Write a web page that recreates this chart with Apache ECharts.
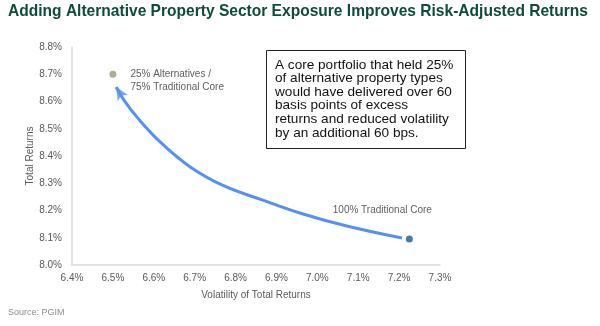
<!DOCTYPE html>
<html><head><meta charset="utf-8">
<script src="https://cdn.jsdelivr.net/npm/echarts@6/dist/echarts.min.js"></script>
<style>html,body{margin:0;padding:0;background:#fff}#c{width:600px;height:326px}</style>
</head><body><div id="c"></div>
<script>
const titleText = 'Adding Alternative Property Sector Exposure Improves Risk-Adjusted Returns';
const sourceText = 'Source: PGIM';
const xAxisName = 'Volatility of Total Returns';
const yAxisName = 'Total Returns';
const noteText = 'A core portfolio that held 25%\nof alternative property types\nwould have delivered over 60\nbasis points of excess\nreturns and reduced volatility\nby an additional 60 bps.';
// portfolios: [volatility %, return %]
const altPoint = [6.50, 8.70];
const altLabel = '25% Alternatives /\n75% Traditional Core';
const corePoint = [7.225, 8.095];
const coreLabel = '100% Traditional Core';
// arrow path (volatility %, return %), from core toward alternatives
const pathX = [7.207, 7.072, 6.957, 6.865, 6.772, 6.689, 6.618, 6.561, 6.527, 6.508];
const pathY = [8.099, 8.143, 8.191, 8.239, 8.290, 8.360, 8.448, 8.539, 8.605, 8.653];

const chart = echarts.init(document.getElementById('c'));
const axisLabel = {color:'#595959', fontSize:10, fontFamily:'Arial'};
chart.setOption({
  animation:false,
  grid:{left:72,right:160,top:47,bottom:61},
  xAxis:{type:'value',min:6.4,max:7.3,interval:0.1,
    axisLine:{lineStyle:{color:'#d9d9d9',width:1.5}},axisTick:{show:false},splitLine:{show:false},
    axisLabel:Object.assign({margin:8,formatter:v=>v.toFixed(1)+'%'},axisLabel),
    name:xAxisName,nameLocation:'middle',nameGap:25,nameMoveOverlap:false,nameTextStyle:{color:'#595959',fontSize:10,fontFamily:'Arial'}},
  yAxis:{type:'value',min:8.0,max:8.8,interval:0.1,
    axisLine:{show:true,lineStyle:{color:'#d9d9d9',width:1.5}},axisTick:{show:false},splitLine:{show:false},
    axisLabel:Object.assign({margin:10,formatter:v=>v.toFixed(1)+'%'},axisLabel),
    name:yAxisName,nameLocation:'middle',nameGap:37,nameMoveOverlap:false,nameTextStyle:{color:'#595959',fontSize:10,fontFamily:'Arial'}},
  graphic:[
    {type:'text',x:8,y:3,scaleX:0.915,style:{text:titleText,fill:'#0d4b3b',fontSize:17,fontWeight:'bold',fontFamily:'Arial'}},
    {type:'text',left:8,top:308,style:{text:sourceText,fill:'#8c8c8c',fontSize:9,fontFamily:'Arial'}},
    {type:'rect',shape:{x:266.5,y:50.5,width:199,height:98},style:{fill:'#fff',stroke:'#222',lineWidth:1}},
    {type:'text',x:275,y:58,style:{text:noteText,fill:'#111',fontSize:13.6,lineHeight:13.6,fontFamily:'Arial'}}
  ],
  series:[
    {type:'line',data:pathX.map((x,i)=>[x,pathY[i]]),smooth:0.4,showSymbol:false,symbol:'none',
     lineStyle:{color:'#5590f5',width:3},z:2},
    {type:'scatter',data:[[pathX[pathX.length-1],pathY[pathY.length-1]]],symbol:'arrow',symbolSize:[9,13],symbolRotate:31,
     itemStyle:{color:'#5590f5'},z:3},
    {type:'scatter',data:[altPoint],symbolSize:7,itemStyle:{color:'#9a9a7a'},
     label:{show:true,formatter:altLabel,position:'right',distance:14,offset:[0,6],color:'#333',fontSize:10,lineHeight:13,fontFamily:'Arial'},z:4},
    {type:'scatter',data:[corePoint],symbolSize:7,itemStyle:{color:'#135d94'},
     label:{show:true,formatter:coreLabel,position:'top',distance:0,offset:[-27,-20],color:'#333',fontSize:10,fontFamily:'Arial'},z:4}
  ]
});
</script></body></html>
